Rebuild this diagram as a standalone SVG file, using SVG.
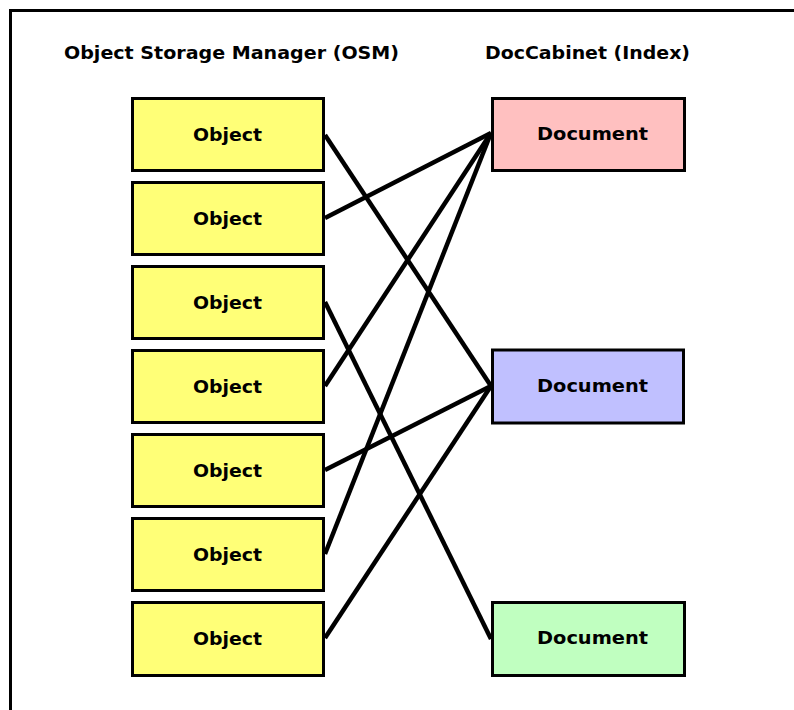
<svg xmlns="http://www.w3.org/2000/svg" width="794" height="710" viewBox="0 0 794 710">
<style>
.frame{fill:none;stroke:#000;stroke-width:3}
.box{stroke:#000;stroke-width:3}
.obj{fill:#FFFF77}
.d1{fill:#FFC0C0}
.d2{fill:#C0C0FF}
.d3{fill:#C0FFC0}
text{font-family:"DejaVu Sans","Liberation Sans",sans-serif;font-weight:bold;font-size:18px;fill:#000;text-anchor:middle}
.conn line{stroke:#000;stroke-width:4.5}
</style>
<rect x="0" y="0" width="794" height="710" fill="#fff"/>
<rect class="frame" x="10.5" y="10.5" width="800" height="720"/>
<text x="231.5" y="59" textLength="335" lengthAdjust="spacingAndGlyphs">Object Storage Manager (OSM)</text>
<text x="587.5" y="59" textLength="205" lengthAdjust="spacingAndGlyphs">DocCabinet (Index)</text>
<g class="conn">
<line x1="325" y1="135" x2="491" y2="386"/>
<line x1="325" y1="218" x2="491" y2="133"/>
<line x1="325" y1="302" x2="491" y2="639"/>
<line x1="325" y1="386" x2="491" y2="133"/>
<line x1="325" y1="470" x2="491" y2="386"/>
<line x1="325" y1="554" x2="491" y2="133"/>
<line x1="325" y1="638" x2="491" y2="386"/>
</g>
<g id="obj1"><rect class="box obj" x="132.5" y="98.5" width="191" height="72"/><text x="227.5" y="141" textLength="69" lengthAdjust="spacingAndGlyphs">Object</text></g>
<g id="obj2"><rect class="box obj" x="132.5" y="182.5" width="191" height="72"/><text x="227.5" y="225" textLength="69" lengthAdjust="spacingAndGlyphs">Object</text></g>
<g id="obj3"><rect class="box obj" x="132.5" y="266.5" width="191" height="72"/><text x="227.5" y="309" textLength="69" lengthAdjust="spacingAndGlyphs">Object</text></g>
<g id="obj4"><rect class="box obj" x="132.5" y="350.5" width="191" height="72"/><text x="227.5" y="393" textLength="69" lengthAdjust="spacingAndGlyphs">Object</text></g>
<g id="obj5"><rect class="box obj" x="132.5" y="434.5" width="191" height="72"/><text x="227.5" y="477" textLength="69" lengthAdjust="spacingAndGlyphs">Object</text></g>
<g id="obj6"><rect class="box obj" x="132.5" y="518.5" width="191" height="72"/><text x="227.5" y="561" textLength="69" lengthAdjust="spacingAndGlyphs">Object</text></g>
<g id="obj7"><rect class="box obj" x="132.5" y="602.5" width="191" height="73"/><text x="227.5" y="645" textLength="69" lengthAdjust="spacingAndGlyphs">Object</text></g>
<g id="doc1"><rect class="box d1" x="492.5" y="98.5" width="192" height="72"/><text x="592.5" y="140" textLength="111" lengthAdjust="spacingAndGlyphs">Document</text></g>
<g id="doc2"><rect class="box d2" x="492.5" y="350" width="191" height="73"/><text x="592.5" y="392" textLength="111" lengthAdjust="spacingAndGlyphs">Document</text></g>
<g id="doc3"><rect class="box d3" x="492.5" y="602.5" width="192" height="73"/><text x="592.5" y="644" textLength="111" lengthAdjust="spacingAndGlyphs">Document</text></g>
</svg>
